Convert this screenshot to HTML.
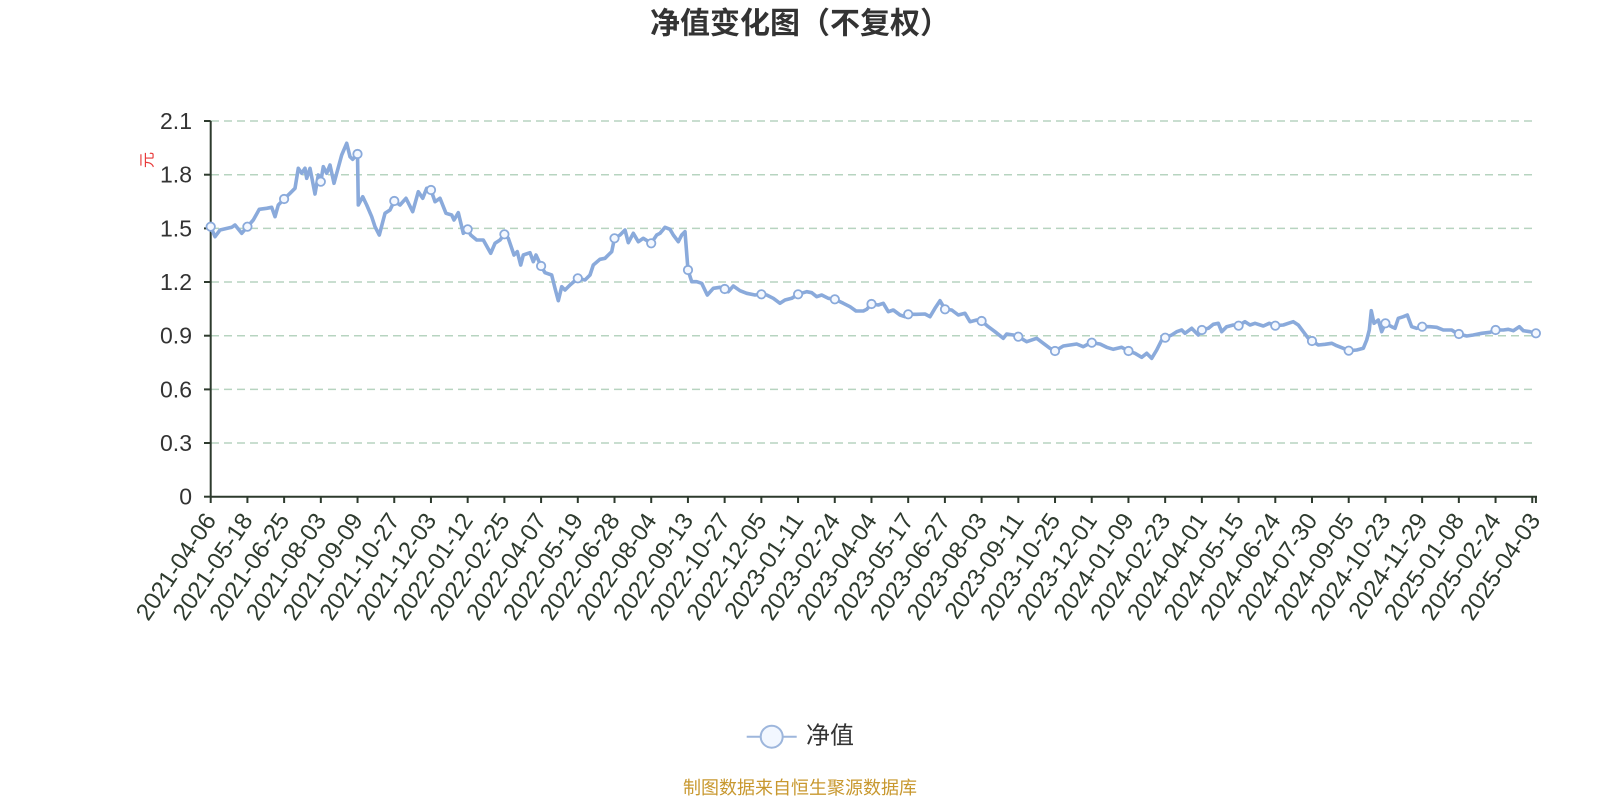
<!DOCTYPE html>
<html><head><meta charset="utf-8"><style>
html,body{margin:0;padding:0;background:#fff;}
svg{display:block;}
text{font-family:"Liberation Sans","Noto Sans CJK SC",sans-serif;}
</style></head><body>
<svg width="1600" height="800" viewBox="0 0 1600 800" xmlns="http://www.w3.org/2000/svg">
<rect width="1600" height="800" fill="#fff"/>
<text x="800" y="24" text-anchor="middle" dominant-baseline="central" font-size="30" font-weight="bold" fill="#333">净值变化图（不复权）</text>
<g stroke="#b7d4c0" stroke-width="1.5" stroke-dasharray="8 5">
<line x1="211" y1="443" x2="1532" y2="443"/>
<line x1="211" y1="389.4" x2="1532" y2="389.4"/>
<line x1="211" y1="335.7" x2="1532" y2="335.7"/>
<line x1="211" y1="282" x2="1532" y2="282"/>
<line x1="211" y1="228.4" x2="1532" y2="228.4"/>
<line x1="211" y1="174.7" x2="1532" y2="174.7"/>
<line x1="211" y1="121" x2="1532" y2="121"/>
</g>
<g stroke="#2d3a2d" stroke-width="2">
<line x1="210.7" y1="121" x2="210.7" y2="497"/>
<line x1="210" y1="496.7" x2="1537" y2="496.7"/>
<line x1="204" y1="496.7" x2="210.7" y2="496.7"/>
<line x1="204" y1="443" x2="210.7" y2="443"/>
<line x1="204" y1="389.4" x2="210.7" y2="389.4"/>
<line x1="204" y1="335.7" x2="210.7" y2="335.7"/>
<line x1="204" y1="282" x2="210.7" y2="282"/>
<line x1="204" y1="228.4" x2="210.7" y2="228.4"/>
<line x1="204" y1="174.7" x2="210.7" y2="174.7"/>
<line x1="204" y1="121" x2="210.7" y2="121"/>
</g>
<path fill="none" stroke="#2d3a2d" stroke-width="2" d="M210.7 496.7V503 M247.41 496.7V503 M284.12 496.7V503 M320.83 496.7V503 M357.54 496.7V503 M394.25 496.7V503 M430.96 496.7V503 M467.67 496.7V503 M504.38 496.7V503 M541.09 496.7V503 M577.8 496.7V503 M614.51 496.7V503 M651.22 496.7V503 M687.93 496.7V503 M724.64 496.7V503 M761.35 496.7V503 M798.06 496.7V503 M834.77 496.7V503 M871.48 496.7V503 M908.19 496.7V503 M944.9 496.7V503 M981.61 496.7V503 M1018.32 496.7V503 M1055.03 496.7V503 M1091.74 496.7V503 M1128.45 496.7V503 M1165.16 496.7V503 M1201.87 496.7V503 M1238.58 496.7V503 M1275.29 496.7V503 M1312 496.7V503 M1348.71 496.7V503 M1385.42 496.7V503 M1422.13 496.7V503 M1458.84 496.7V503 M1495.55 496.7V503 M1532.26 496.7V503 M1535.9 496.7V503"/>
<g fill="#333" font-size="23" text-anchor="end" dominant-baseline="central">
<text x="192" y="496.7">0</text>
<text x="192" y="443">0.3</text>
<text x="192" y="389.4">0.6</text>
<text x="192" y="335.7">0.9</text>
<text x="192" y="282">1.2</text>
<text x="192" y="228.4">1.5</text>
<text x="192" y="174.7">1.8</text>
<text x="192" y="121">2.1</text>
</g>
<text transform="translate(148,160) rotate(-90)" text-anchor="middle" dominant-baseline="central" font-size="16" fill="#e83a3a">元</text>
<g fill="#2e3a2e" font-size="24" text-anchor="end" dominant-baseline="central">
<text transform="translate(210.7,516) rotate(-56)">2021-04-06</text>
<text transform="translate(247.41,516) rotate(-56)">2021-05-18</text>
<text transform="translate(284.12,516) rotate(-56)">2021-06-25</text>
<text transform="translate(320.83,516) rotate(-56)">2021-08-03</text>
<text transform="translate(357.54,516) rotate(-56)">2021-09-09</text>
<text transform="translate(394.25,516) rotate(-56)">2021-10-27</text>
<text transform="translate(430.96,516) rotate(-56)">2021-12-03</text>
<text transform="translate(467.67,516) rotate(-56)">2022-01-12</text>
<text transform="translate(504.38,516) rotate(-56)">2022-02-25</text>
<text transform="translate(541.09,516) rotate(-56)">2022-04-07</text>
<text transform="translate(577.8,516) rotate(-56)">2022-05-19</text>
<text transform="translate(614.51,516) rotate(-56)">2022-06-28</text>
<text transform="translate(651.22,516) rotate(-56)">2022-08-04</text>
<text transform="translate(687.93,516) rotate(-56)">2022-09-13</text>
<text transform="translate(724.64,516) rotate(-56)">2022-10-27</text>
<text transform="translate(761.35,516) rotate(-56)">2022-12-05</text>
<text transform="translate(798.06,516) rotate(-56)">2023-01-11</text>
<text transform="translate(834.77,516) rotate(-56)">2023-02-24</text>
<text transform="translate(871.48,516) rotate(-56)">2023-04-04</text>
<text transform="translate(908.19,516) rotate(-56)">2023-05-17</text>
<text transform="translate(944.9,516) rotate(-56)">2023-06-27</text>
<text transform="translate(981.61,516) rotate(-56)">2023-08-03</text>
<text transform="translate(1018.32,516) rotate(-56)">2023-09-11</text>
<text transform="translate(1055.03,516) rotate(-56)">2023-10-25</text>
<text transform="translate(1091.74,516) rotate(-56)">2023-12-01</text>
<text transform="translate(1128.45,516) rotate(-56)">2024-01-09</text>
<text transform="translate(1165.16,516) rotate(-56)">2024-02-23</text>
<text transform="translate(1201.87,516) rotate(-56)">2024-04-01</text>
<text transform="translate(1238.58,516) rotate(-56)">2024-05-15</text>
<text transform="translate(1275.29,516) rotate(-56)">2024-06-24</text>
<text transform="translate(1312,516) rotate(-56)">2024-07-30</text>
<text transform="translate(1348.71,516) rotate(-56)">2024-09-05</text>
<text transform="translate(1385.42,516) rotate(-56)">2024-10-23</text>
<text transform="translate(1422.13,516) rotate(-56)">2024-11-29</text>
<text transform="translate(1458.84,516) rotate(-56)">2025-01-08</text>
<text transform="translate(1495.55,516) rotate(-56)">2025-02-24</text>
<text transform="translate(1535,516) rotate(-56)">2025-04-03</text>
</g>
<polyline fill="none" stroke="#8aaadb" stroke-width="3.6" stroke-linejoin="round" stroke-linecap="round" points="210.7,226.7 215,236.7 220,230 231.7,227.3 235,225 241.7,233.3 247.4,226.7 253.3,220 259.3,209.3 266.7,208.3 271.7,207.3 275,216.7 278.3,205 284.1,199 290,193.3 295,188.3 298.3,168.3 301.7,173.3 305,168.3 306.7,178.3 310,168.3 315,194 318.3,175 320.8,181.7 323.3,166.7 326.7,173.3 330,165 334,183.3 336.7,173.3 341.7,155 346.7,143.3 350,156.7 352.7,159.3 357.5,154 358.3,205 362.7,196.7 366.7,205 371.7,216.7 375,226.7 379.3,235 385,213.3 390,210 394.3,201 400,205 406,198.3 412.7,211.7 418.3,191.7 422.7,198.3 426.7,188.3 431,190 435,201.7 440,198.3 446,213.3 451.7,215 454,220 458.3,212.7 463.3,233.3 467.7,229.3 470.7,235 476.7,240 483.3,240 490.7,253.3 495,243.3 500,240 504.4,234.3 508.3,238.3 514,255 517.3,251.7 520.7,265 523.3,255 530,252.7 533.3,261.7 536,255 541.1,266 545,272.7 551.7,275 555,288.3 558.3,300.7 561.7,286.7 565,290 570,285 577.8,278.3 585,280 590,275 593.3,265 600,259.3 605,258.3 608.3,255 611.7,251.7 614.5,238.3 620,235 625,230 628.3,242.7 633.3,233.3 638.3,241.7 643.3,238.3 651.2,243.3 656.7,235 660,233.3 665,227.3 670,229.3 673.3,235 678.3,241.7 681.7,235 685,231.7 688,270 691.7,281.7 696.7,281.7 701.7,283.3 707.3,295 713.3,288.3 720,287.3 724.7,289 728.3,291.7 733.3,286 740,290.7 746.7,293.3 755,295 761.4,294.3 766.7,295 773.3,298.3 780,303.3 785,300 791.7,298.3 798.1,294.3 806.7,291.7 811.7,292.7 816.7,296.7 821.7,295 828.3,298.3 834.8,299.3 843.3,303.3 850,306.7 856,311 863.3,311 866.7,309.3 871.5,304 878.3,305 883.3,303.3 888.3,311.7 893.3,310 900,315 905,316.7 908.2,314.3 916.7,314.3 925,314 930,316.7 935,308.3 940,300.7 945,309.3 951.7,310 958.3,315 965,313.3 970,321.7 976.7,320 981.6,321 988.3,326.7 995,331.7 1003.3,338.3 1006.7,334 1013.3,335 1018.3,336.7 1026.7,341.7 1036.7,338.3 1043.3,343.3 1050,348.3 1055,351 1063.3,346 1070,345 1076.7,344 1083.3,346.7 1088.3,344 1091.8,342.7 1100,344 1106.7,347.3 1113.3,349.3 1121.7,347.3 1128.5,351 1135,353.3 1141.7,357.3 1146.7,353.3 1151.7,358.3 1156.7,350 1161.7,340 1165.2,337.7 1171.7,335 1176.7,331.7 1181.7,330 1185,333.3 1191.7,328.3 1198.3,335 1201.9,330 1208.3,328.3 1213.3,324.3 1218.3,323.3 1221.7,331.7 1226.7,326.7 1233.3,325 1238.6,325.7 1245,321.7 1250,325 1255,323.3 1263.3,326 1269.3,323.3 1275.3,325.7 1283.3,325 1288.3,323.3 1293.3,321.7 1298.3,325 1303.3,331.7 1308.3,338.3 1312,341 1318.3,345 1325,344.3 1331.7,343.3 1336.7,345.7 1343.3,348.3 1348.7,350.7 1356.7,350 1363.3,348.3 1366.7,340 1369.3,330 1371.3,310.7 1374,323.3 1378.3,320 1381.7,331.7 1385.4,323.3 1391.7,326.7 1395,328.3 1398.3,318.3 1403.3,316.7 1407.3,315 1411.7,326.7 1416.7,328.3 1422.2,326.7 1430,326.7 1436.7,327.3 1443.3,330 1451.7,330 1456.7,333.3 1458.9,334 1466.7,336 1473.3,335 1481.7,333.3 1490,332.3 1495.6,330 1503.3,330 1508.3,329.3 1513.3,330.7 1519.3,326.7 1523.3,330.7 1530,331.7 1535.9,333.3"/>
<g fill="#f4f8ff" stroke="#8aaadb" stroke-width="1.8">
<circle cx="210.7" cy="226.7" r="4.2"/><circle cx="247.4" cy="226.7" r="4.2"/><circle cx="284.1" cy="199" r="4.2"/><circle cx="320.8" cy="181.7" r="4.2"/><circle cx="357.5" cy="154" r="4.2"/><circle cx="394.3" cy="201" r="4.2"/><circle cx="431" cy="190" r="4.2"/><circle cx="467.7" cy="229.3" r="4.2"/><circle cx="504.4" cy="234.3" r="4.2"/><circle cx="541.1" cy="266" r="4.2"/><circle cx="577.8" cy="278.3" r="4.2"/><circle cx="614.5" cy="238.3" r="4.2"/><circle cx="651.2" cy="243.3" r="4.2"/><circle cx="688" cy="270" r="4.2"/><circle cx="724.7" cy="289" r="4.2"/><circle cx="761.4" cy="294.3" r="4.2"/><circle cx="798.1" cy="294.3" r="4.2"/><circle cx="834.8" cy="299.3" r="4.2"/><circle cx="871.5" cy="304" r="4.2"/><circle cx="908.2" cy="314.3" r="4.2"/><circle cx="945" cy="309.3" r="4.2"/><circle cx="981.6" cy="321" r="4.2"/><circle cx="1018.3" cy="336.7" r="4.2"/><circle cx="1055" cy="351" r="4.2"/><circle cx="1091.8" cy="342.7" r="4.2"/><circle cx="1128.5" cy="351" r="4.2"/><circle cx="1165.2" cy="337.7" r="4.2"/><circle cx="1201.9" cy="330" r="4.2"/><circle cx="1238.6" cy="325.7" r="4.2"/><circle cx="1275.3" cy="325.7" r="4.2"/><circle cx="1312" cy="341" r="4.2"/><circle cx="1348.7" cy="350.7" r="4.2"/><circle cx="1385.4" cy="323.3" r="4.2"/><circle cx="1422.2" cy="326.7" r="4.2"/><circle cx="1458.9" cy="334" r="4.2"/><circle cx="1495.6" cy="330" r="4.2"/><circle cx="1535.9" cy="333.3" r="4.2"/>
</g>
<line x1="746.7" y1="736.7" x2="796.7" y2="736.7" stroke="#9db6dc" stroke-width="2"/>
<circle cx="771.7" cy="736.7" r="11" fill="#f2f7ff" stroke="#9db6dc" stroke-width="2"/>
<text x="806" y="736" dominant-baseline="central" font-size="24" fill="#333">净值</text>
<text x="800" y="788" text-anchor="middle" dominant-baseline="central" font-size="18" fill="#c8982f">制图数据来自恒生聚源数据库</text>
</svg>
</body></html>
